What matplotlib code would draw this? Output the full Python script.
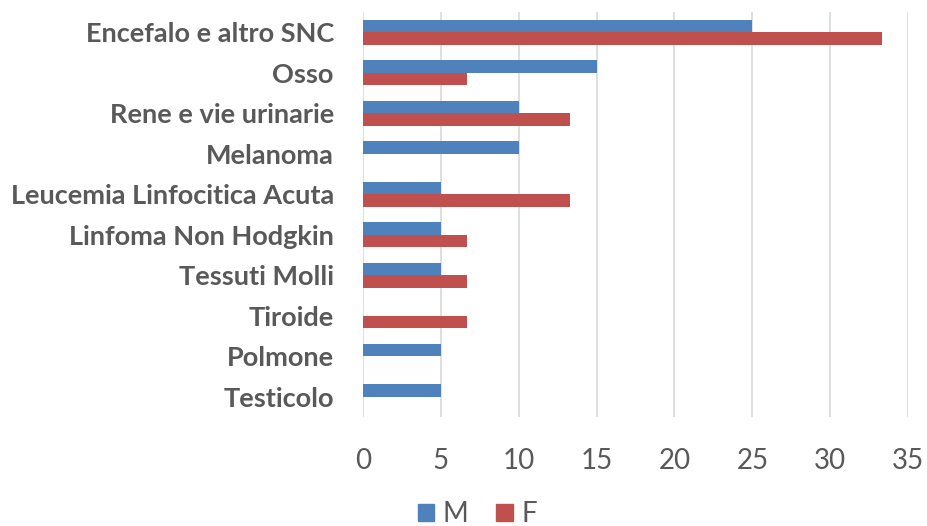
import numpy as np
import matplotlib.pyplot as plt
from matplotlib.patches import Patch

# Dati
categorie = ["Encefalo e altro SNC", "Osso", "Rene e vie urinarie", "Melanoma",
             "Leucemia Linfocitica Acuta", "Linfoma Non Hodgkin", "Tessuti Molli",
             "Tiroide", "Polmone", "Testicolo"]
maschi = [25, 15, 10, 10, 5, 5, 5, 0, 5, 5]
femmine = [33.3, 6.67, 13.3, 0, 13.3, 6.67, 6.67, 6.67, 0, 0]

blu = "#4F81BD"
rosso = "#C0504D"
grigio = "#595959"

plt.rcParams['font.family'] = ['Lato', 'DejaVu Sans']

fig = plt.figure(figsize=(9.27, 5.26), dpi=100)
ax = fig.add_axes([0.3916, 0.207, 0.588, 0.770])

y = np.arange(len(categorie))
h = 0.31
ax.barh(y - h / 2, maschi, height=h, color=blu, label="M")
ax.barh(y + h / 2, femmine, height=h, color=rosso, label="F")

ax.set_xlim(0, 35)
ax.set_ylim(len(categorie) - 0.5, -0.5)
ax.set_xticks(np.arange(0, 36, 5))
ax.set_yticks(y)
ax.set_yticklabels(categorie, fontsize=19.5, fontweight='bold', color=grigio)
ax.tick_params(axis='x', labelsize=20, labelcolor=grigio, length=0, pad=22)
ax.tick_params(axis='y', length=0, pad=21)
ax.grid(axis='x', color="#D9D9D9", linewidth=1.2)
ax.set_axisbelow(True)
for s in ax.spines.values():
    s.set_visible(False)

handles = [Patch(color=blu, label="M"), Patch(color=rosso, label="F")]
fig.legend(handles=handles, loc='center', bbox_to_anchor=(0.515, 0.022), ncol=2,
           frameon=False, fontsize=20, labelcolor=grigio, handlelength=0.6,
           handleheight=0.6, handletextpad=0.3, columnspacing=1.0)

fig.savefig("out.png", dpi=100)
